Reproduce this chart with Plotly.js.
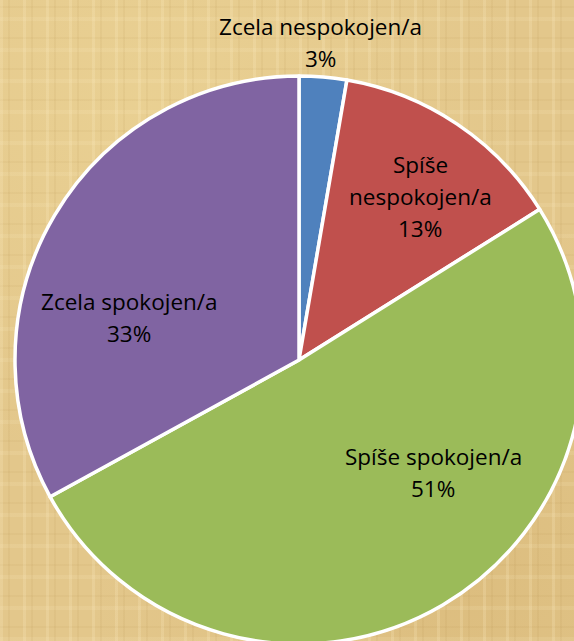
<!DOCTYPE html>
<html>
<head>
<meta charset="utf-8">
<script src="https://cdn.plot.ly/plotly-3.0.1.min.js"></script>
<style>
html, body { margin:0; padding:0; width:574px; height:641px; overflow:hidden; }
body {
  background-color: #E3C78B;
  background-image:
    repeating-linear-gradient(90deg, rgba(255,240,200,0.20) 0px, rgba(255,240,200,0.20) 3px, rgba(0,0,0,0) 3px, rgba(0,0,0,0) 8px, rgba(160,120,50,0.07) 8px, rgba(160,120,50,0.07) 10px, rgba(0,0,0,0) 10px, rgba(0,0,0,0) 23px),
    repeating-linear-gradient(0deg, rgba(255,240,200,0.13) 0px, rgba(255,240,200,0.13) 4px, rgba(0,0,0,0) 4px, rgba(0,0,0,0) 13px, rgba(160,120,50,0.06) 13px, rgba(160,120,50,0.06) 15px, rgba(0,0,0,0) 15px, rgba(0,0,0,0) 31px),
    radial-gradient(circle at 25% 15%, rgba(245,225,160,0.35), rgba(0,0,0,0) 55%),
    radial-gradient(circle at 80% 90%, rgba(200,160,90,0.25), rgba(0,0,0,0) 50%);
}
#chart { width:600px; height:660px; }
</style>
</head>
<body>
<div id="chart"></div>
<script>
// Data
var categories = ['Zcela nespokojen/a', 'Spíše nespokojen/a', 'Spíše spokojen/a', 'Zcela spokojen/a'];
var values = [2.7, 13.4, 50.9, 33.0];
var colors = ['#4F81BD', '#C0504D', '#9BBB59', '#8064A2'];
// label display lines (category text split as in the chart)
var labelLines = [['Zcela nespokojen/a'], ['Spíše', 'nespokojen/a'], ['Spíše spokojen/a'], ['Zcela spokojen/a']];

var W = 600, H = 660;
var total = values.reduce(function(a, b){ return a + b; }, 0);
var pct = values.map(function(v){ return Math.round(v / total * 100) + '%'; });

// label anchor positions in pixels (centre of text block) and line spacing
var labelPos = [[320, 43], [420, 196], [433, 472], [129, 317]];
var lineGap = 32;

var annotations = [];
categories.forEach(function(c, i){
  var lines = labelLines[i].concat([pct[i]]);
  var y0 = labelPos[i][1] - (lines.length - 1) * lineGap / 2;
  lines.forEach(function(t, k){
    annotations.push({
      text: t,
      xref: 'paper', yref: 'paper',
      x: labelPos[i][0] / W, y: 1 - (y0 + k * lineGap) / H,
      xanchor: 'center', yanchor: 'middle',
      showarrow: false,
      font: { family: '"Open Sans", sans-serif', size: 22.5, color: '#000000' }
    });
  });
});

var trace = {
  type: 'pie',
  labels: categories,
  values: values,
  sort: false,
  direction: 'clockwise',
  rotation: 0,
  textinfo: 'none',
  hoverinfo: 'label+percent',
  marker: { colors: colors, line: { color: '#FFFFFF', width: 3.5 } },
  domain: { x: [15 / W, 583 / W], y: [1 - 644 / H, 1 - 76 / H] },
  showlegend: false
};

var layout = {
  width: W, height: H,
  margin: { l: 0, r: 0, t: 0, b: 0 },
  paper_bgcolor: 'rgba(0,0,0,0)',
  plot_bgcolor: 'rgba(0,0,0,0)',
  showlegend: false,
  annotations: annotations
};

Plotly.newPlot('chart', [trace], layout, { displayModeBar: false, staticPlot: true });
</script>
</body>
</html>
